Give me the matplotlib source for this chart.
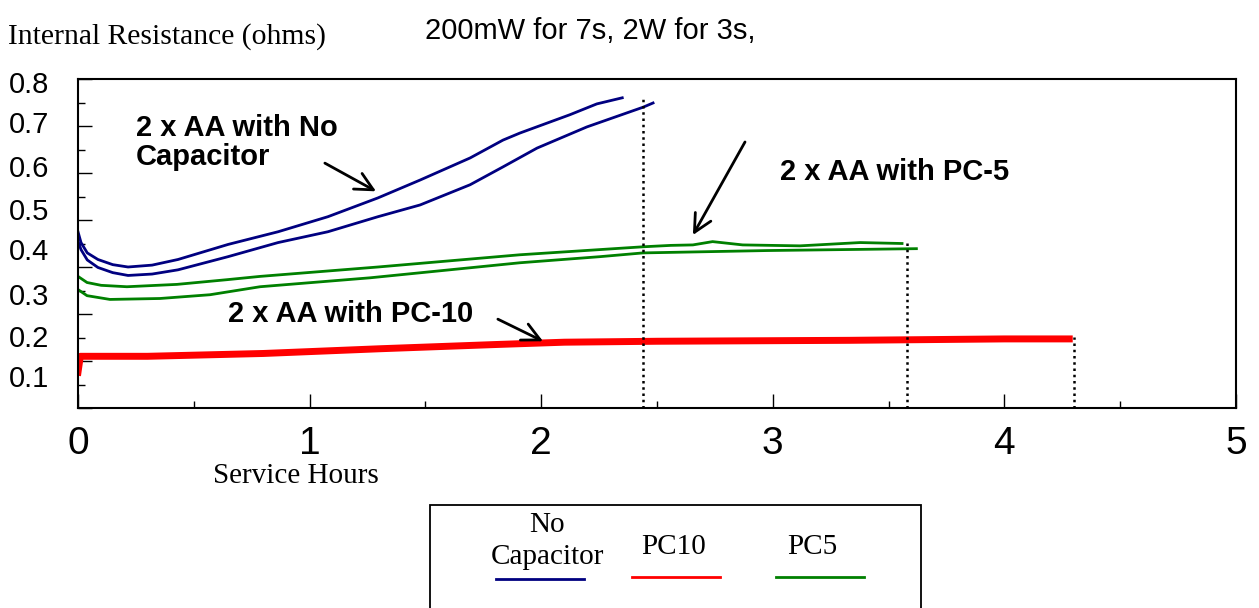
import matplotlib.pyplot as plt
from matplotlib.ticker import MultipleLocator
from matplotlib.patches import Rectangle
from matplotlib.lines import Line2D

plt.rcParams['font.family'] = ['Liberation Sans', 'DejaVu Sans']

# values: service hours vs internal resistance (ohms)
nocap_a_hours = [0, 0.013, 0.04, 0.086, 0.15, 0.216, 0.32, 0.432, 0.648, 0.864, 1.079, 1.295, 1.477, 1.693, 1.835, 1.908, 2.124, 2.24, 2.35]
nocap_a_ohms = [0.475, 0.452, 0.43, 0.416, 0.405, 0.400, 0.404, 0.416, 0.448, 0.475, 0.507, 0.547, 0.585, 0.632, 0.670, 0.685, 0.724, 0.747, 0.760]

nocap_b_hours = [0, 0.013, 0.04, 0.086, 0.15, 0.216, 0.32, 0.432, 0.648, 0.864, 1.079, 1.295, 1.477, 1.693, 1.835, 1.982, 2.197, 2.44, 2.483]
nocap_b_ohms = [0.455, 0.437, 0.415, 0.399, 0.388, 0.382, 0.385, 0.394, 0.422, 0.452, 0.475, 0.507, 0.532, 0.575, 0.613, 0.653, 0.698, 0.740, 0.749]

pc5_a_hours = [0, 0.039, 0.1, 0.211, 0.427, 0.643, 0.786, 1.295, 1.908, 2.44, 2.56, 2.655, 2.74, 2.87, 3.117, 3.377, 3.558]
pc5_a_ohms = [0.380, 0.367, 0.361, 0.358, 0.363, 0.373, 0.380, 0.400, 0.426, 0.443, 0.446, 0.447, 0.454, 0.447, 0.445, 0.452, 0.450]

pc5_b_hours = [0, 0.039, 0.138, 0.354, 0.57, 0.786, 1.261, 1.908, 2.254, 2.44, 2.975, 3.62]
pc5_b_ohms = [0.352, 0.339, 0.331, 0.333, 0.341, 0.358, 0.377, 0.409, 0.422, 0.430, 0.435, 0.439]

pc10_hours = [0, 0.01, 0.3, 0.8, 1.3, 1.8, 2.1, 2.5, 3.33, 4.0, 4.28]
pc10_ohms = [0.176, 0.21, 0.21, 0.216, 0.226, 0.235, 0.24, 0.242, 0.244, 0.247, 0.247]

# end-of-service markers
cut_hours = [2.44, 3.58, 4.30]
cut_tops = [0.764, 0.456, 0.252]

ytick_labels = ['0.1', '0.2', '0.3', '0.4', '0.5', '0.6', '0.7', '0.8']
ytick_label_pos = [0.161, 0.246, 0.337, 0.431, 0.518, 0.609, 0.702, 0.787]

navy = '#000080'
green = '#008000'
red = '#ff0000'

fig = plt.figure(figsize=(12.59, 6.08), dpi=100)
ax = fig.add_axes([78 / 1259, 1 - 408 / 608, 1158 / 1259, 329 / 608])

ax.plot(nocap_a_hours, nocap_a_ohms, color=navy, lw=2)
ax.plot(nocap_b_hours, nocap_b_ohms, color=navy, lw=2)
ax.plot(pc5_a_hours, pc5_a_ohms, color=green, lw=2)
ax.plot(pc5_b_hours, pc5_b_ohms, color=green, lw=2)
ax.plot(pc10_hours, pc10_ohms, color=red, lw=5)

ax.vlines(cut_hours, 0.1, cut_tops, colors='k', linestyles=(0, (1, 1.5)), lw=1.8)

ax.set_xlim(0, 5)
ax.set_ylim(0.1, 0.8)
ax.xaxis.set_major_locator(MultipleLocator(1))
ax.xaxis.set_minor_locator(MultipleLocator(0.5))
ax.yaxis.set_major_locator(MultipleLocator(0.1))
ax.yaxis.set_minor_locator(MultipleLocator(0.05))
ax.tick_params(which='major', direction='in', length=10, width=1, labelsize=28, pad=13)
ax.tick_params(which='minor', direction='in', length=5, width=1)
ax.tick_params(axis='y', labelleft=False)
for s in ax.spines.values():
    s.set_linewidth(1.5)

# y labels sit a little off their ticks in the original
for pos, lab in zip(ytick_label_pos, ytick_labels):
    ax.text(-0.025, pos, lab, transform=ax.get_yaxis_transform(), ha='right', va='center', fontsize=21)

# annotations
arrow = dict(arrowstyle='->', lw=2, color='k', mutation_scale=32, shrinkA=0, shrinkB=0)
ax.text(0.25, 0.726, '2 x AA with No\nCapacitor', fontsize=21, fontweight='bold', va='top', linespacing=1.05)
ax.annotate('', xy=(1.287, 0.561), xytext=(1.066, 0.621), arrowprops=arrow)
ax.text(3.03, 0.603, '2 x AA with PC-5', fontsize=21, fontweight='bold', va='center')
ax.annotate('', xy=(2.655, 0.468), xytext=(2.88, 0.666), arrowprops=arrow)
ax.text(0.648, 0.299, '2 x AA with PC-10', fontsize=21, fontweight='bold', va='center')
ax.annotate('', xy=(2.008, 0.242), xytext=(1.813, 0.289), arrowprops=arrow)

# titles
fig.text(8 / 1259, 1 - 37 / 608, 'Internal Resistance (ohms)', family='Liberation Serif', fontsize=21.3, va='center')
fig.text(425 / 1259, 1 - 31 / 608, '200mW for 7s, 2W for 3s,', fontsize=21, va='center')
fig.text(296 / 1259, 1 - 476 / 608, 'Service Hours', family='Liberation Serif', fontsize=21, ha='center', va='center')

# legend box
fig.add_artist(Rectangle((430 / 1259, -0.05), 491 / 1259, 0.05 + 1 - 505 / 608, transform=fig.transFigure,
                         facecolor='white', edgecolor='k', lw=1.3))
# label, colour, text centre x, text centre y, key centre x, key y (pixels)
legend_items = [('No\nCapacitor', navy, 547, 541, 540, 579),
                ('PC10', red, 674, 547, 676, 577),
                ('PC5', green, 812, 547, 820, 577)]
for lab, col, tx, ty, lx, ly in legend_items:
    fig.text(tx / 1259, 1 - ty / 608, lab, family='Liberation Serif', fontsize=21, ha='center', va='center',
             linespacing=1.35)
    fig.add_artist(Line2D([(lx - 44) / 1259, (lx + 44) / 1259], [1 - ly / 608, 1 - ly / 608],
                          transform=fig.transFigure, color=col, lw=2))

fig.savefig('out.png', dpi=100)
